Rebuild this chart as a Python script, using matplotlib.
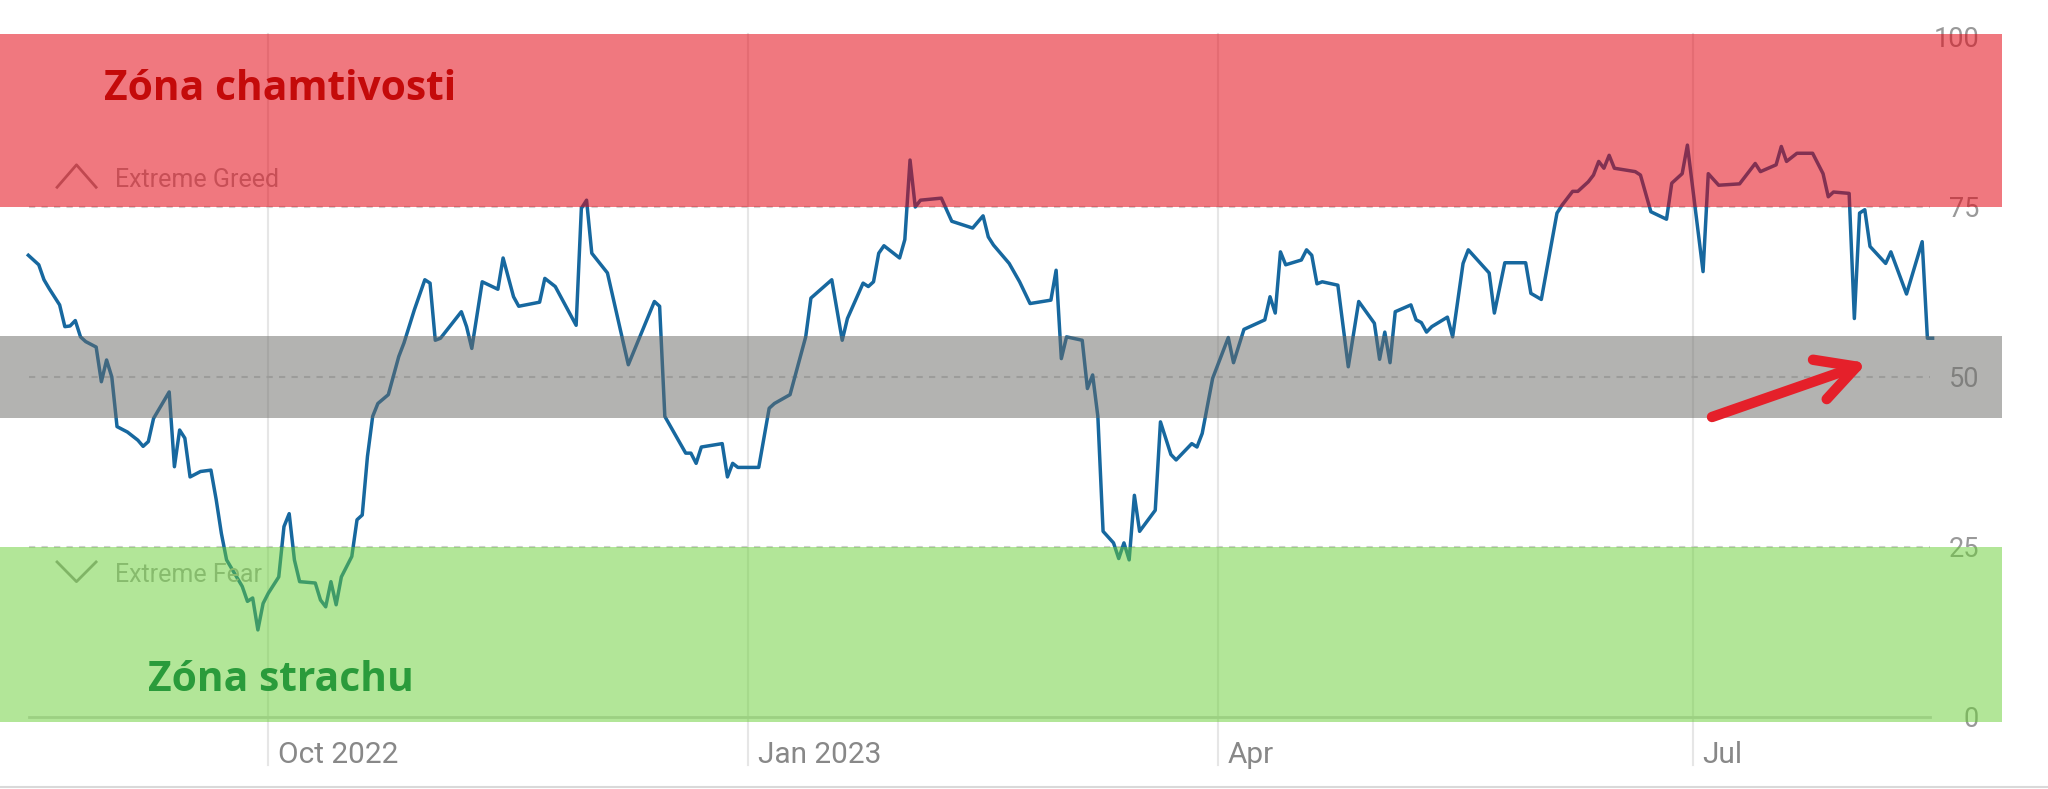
import pandas as pd
import matplotlib.pyplot as plt
import matplotlib.transforms as mtransforms
from matplotlib.lines import Line2D


# Fear & Greed index, days counted from 1 Oct 2022
day_offsets = [-46, -44, -43, -42, -40, -39, -38, -37, -36, -35, -33, -32, -31, -30, -29,
               -27, -25, -24, -23, -22, -19, -18, -17, -16, -15, -13, -11, -10, -9, -8,
               -5, -4, -3, -2, -1, 0, 2, 3, 4, 5, 6, 9, 10, 11, 12, 13, 14, 16, 17, 18,
               19, 20, 21, 23, 25, 26, 28, 30, 31, 32, 33, 37, 38, 39, 41, 44, 45, 47, 48,
               52, 53, 55, 59, 60, 61, 62, 65, 69, 74, 75, 76, 80, 81, 82, 83, 87, 88, 89,
               90, 94, 96, 97, 100, 103, 104, 108, 110, 111, 114, 115, 116, 117, 118, 121,
               122, 123, 124, 125, 129, 131, 135, 137, 138, 139, 142, 144, 146, 150, 151,
               152, 153, 156, 157, 158, 159, 160, 162, 163, 164, 165, 166, 167, 170, 171,
               173, 174, 177, 178, 179, 181, 184, 185, 187, 191, 192, 193, 194, 195, 198,
               199, 200, 201, 202, 205, 207, 209, 212, 213, 214, 215, 216, 219, 220, 221,
               222, 223, 226, 227, 229, 230, 234, 235, 237, 241, 242, 244, 247, 248, 250,
               251, 253, 254, 255, 256, 257, 258, 262, 263, 265, 268, 269, 271, 272, 275,
               276, 278, 282, 285, 286, 289, 290, 291, 293, 296, 298, 299, 300, 303, 304,
               305, 306, 307, 310, 311, 314, 317, 318, 319]
fg_index = [67.9, 66.5, 64.3, 63.0, 60.6, 57.4, 57.5, 58.3, 55.9, 55.2, 54.4, 49.3, 52.5,
            50.0, 42.7, 41.9, 40.7, 39.8, 40.5, 43.9, 47.8, 36.8, 42.2, 41.0, 35.3, 36.1,
            36.3, 32.0, 27.0, 23.1, 19.2, 17.0, 17.5, 12.8, 16.7, 18.2, 20.6, 28.0, 29.9,
            23.1, 19.9, 19.7, 17.2, 16.2, 19.9, 16.5, 20.6, 23.6, 29.0, 29.7, 38.3, 44.2,
            46.1, 47.4, 53.0, 55.0, 59.9, 64.3, 63.8, 55.4, 55.7, 59.6, 57.4, 54.2, 64.0,
            62.9, 67.5, 61.8, 60.4, 61.0, 64.5, 63.3, 57.6, 74.8, 76.0, 68.2, 65.3, 51.8,
            61.1, 60.4, 44.2, 38.8, 38.8, 37.3, 39.7, 40.2, 35.3, 37.3, 36.7, 36.7, 45.4,
            46.1, 47.4, 55.9, 61.6, 64.3, 55.4, 58.6, 63.8, 63.3, 64.0, 68.2, 69.3, 67.5,
            70.2, 81.9, 75.0, 76.0, 76.3, 72.9, 71.9, 73.7, 70.6, 69.4, 66.7, 64.0, 60.8,
            61.3, 65.7, 52.7, 55.9, 55.4, 48.3, 50.3, 44.2, 27.3, 25.6, 23.3, 25.6, 23.1,
            32.6, 27.3, 30.4, 43.4, 38.6, 37.8, 40.2, 39.7, 41.7, 49.8, 55.8, 52.1, 57.0,
            58.4, 61.8, 59.4, 68.4, 66.5, 67.2, 68.7, 67.9, 63.7, 64.0, 63.5, 51.5, 61.1,
            57.9, 52.6, 56.6, 52.1, 59.6, 60.6, 58.4, 58.0, 56.6, 57.4, 58.8, 55.9, 66.7,
            68.7, 65.3, 59.4, 66.8, 66.8, 62.3, 61.4, 74.1, 75.3, 77.3, 77.3, 78.7, 79.7,
            81.7, 80.7, 82.6, 80.7, 80.2, 79.7, 74.3, 73.2, 78.5, 79.9, 84.1, 65.5, 79.9,
            78.2, 78.4, 81.4, 80.2, 81.2, 83.9, 81.7, 82.9, 82.9, 79.9, 76.5, 77.2, 77.0,
            58.6, 74.1, 74.6, 69.2, 66.7, 68.4, 62.2, 69.9, 55.7, 55.7]

tick_dates = ['2022-10-01', '2023-01-01', '2023-04-01', '2023-07-01']
tick_labels = ['Oct 2022', 'Jan 2023', 'Apr', 'Jul']
y_ticks = [0, 25, 50, 75, 100]
ref_lines = [25, 50, 75]

start = pd.Timestamp('2022-10-01')
dates = start + pd.to_timedelta(day_offsets, unit='D')

plt.rcParams['font.family'] = ['Roboto', 'DejaVu Sans']

fig = plt.figure(figsize=(20.48, 7.89), dpi=100)
ax = fig.add_axes([0, 67 / 789, 2002 / 2048, 688 / 789])
ax.set_xlim(start - pd.Timedelta(days=51.43), start + pd.Timedelta(days=332.3))
ax.set_ylim(-0.74, 100.44)
ax.set_axisbelow(True)
for s in ax.spines.values():
    s.set_visible(False)

# original chart underneath
for d in pd.to_datetime(tick_dates):
    ax.axvline(d, ymin=-0.062, ymax=1, color='#e6e6e6', lw=1.5, zorder=1, clip_on=False)
for v in ref_lines:
    ax.axhline(v, xmin=29 / 2002, xmax=1930 / 2002, color='#d0d0d0', lw=1.5,
               ls=(0, (3, 3)), zorder=1)
ax.axhline(0, xmin=29 / 2002, xmax=1930 / 2002, color='#d2d2d2', lw=2, zorder=1)

ax.plot(dates, fg_index, color='#17689f', lw=2.5, zorder=2, solid_joinstyle='round')

blend = mtransforms.blended_transform_factory(ax.transAxes, ax.transData)
ax.plot([0.0285, 0.0382, 0.048], [77.9, 81.2, 77.9], transform=blend, color='#9a9a9a',
        lw=2, zorder=2)
ax.plot([0.0285, 0.0382, 0.048], [22.8, 19.9, 22.8], transform=blend, color='#9a9a9a',
        lw=2, zorder=2)
ax.text(0.0574, 79.0, 'Extreme Greed', transform=blend, fontsize=18, color='#a8a8a8',
        va='center', ha='left', zorder=2)
ax.text(0.0574, 20.9, 'Extreme Fear', transform=blend, fontsize=18, color='#a8a8a8',
        va='center', ha='left', zorder=2)

# zone overlays
ax.axhspan(75, 100.44, color=(227 / 255, 0, 14 / 255), alpha=0.53, lw=0, zorder=3)
ax.axhspan(44, 56, color=(105 / 255, 105 / 255, 101 / 255), alpha=0.5, lw=0, zorder=3)
ax.axhspan(-0.74, 25, color=(103 / 255, 207 / 255, 51 / 255), alpha=0.5, lw=0, zorder=3)

ax.text(0.052, 90.7, 'Zóna chamtivosti', transform=blend, fontsize=29.3, fontweight='bold',
        family=['Open Sans', 'DejaVu Sans'], color='#c40a0a', va='baseline', zorder=5)
ax.text(0.074, 3.8, 'Zóna strachu', transform=blend, fontsize=29.3, fontweight='bold',
        family=['Open Sans', 'DejaVu Sans'], color='#2a9b3b', va='baseline', zorder=5)

# ticks
ax.set_xticks(pd.to_datetime(tick_dates))
ax.set_xticklabels(tick_labels, fontsize=21.5, color='#888888')
ax.tick_params(axis='x', length=0, pad=14)
offset = mtransforms.ScaledTranslation(10 / 100, 0, fig.dpi_scale_trans)
for lab in ax.get_xticklabels():
    lab.set_ha('left')
    lab.set_transform(lab.get_transform() + offset)

ax.set_yticks(y_ticks)
ax.yaxis.tick_right()
ax.tick_params(axis='y', length=0, pad=-16.6, labelsize=19.5, labelcolor='#999999')
for lab in ax.get_yticklabels():
    lab.set_ha('right')

ax.annotate('', xy=(1867, 426), xytext=(1712, 372), xycoords='figure pixels',
            textcoords='figure pixels',
            arrowprops=dict(arrowstyle='->,head_length=1.4,head_width=0.75',
                            color='#e5202a', lw=7.5, mutation_scale=20,
                            shrinkA=0, shrinkB=0), zorder=6)

fig.add_artist(Line2D([0, 1], [2 / 789, 2 / 789], transform=fig.transFigure,
                      color='#d9d9d9', lw=1.5))

fig.savefig('out.png', dpi=100)
